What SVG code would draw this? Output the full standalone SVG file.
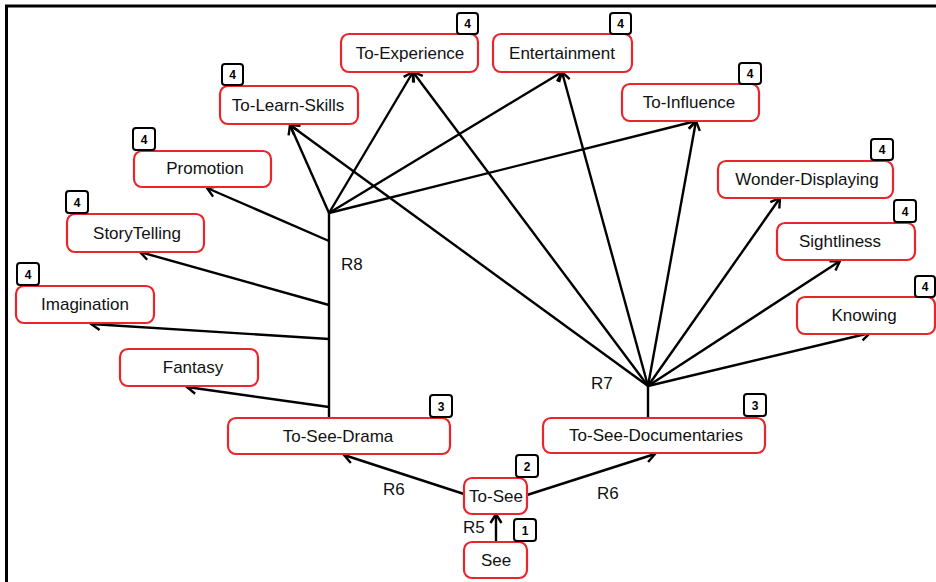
<svg xmlns="http://www.w3.org/2000/svg" width="936" height="582" viewBox="0 0 936 582">
<defs>
<marker id="ah" markerUnits="userSpaceOnUse" markerWidth="14" markerHeight="14" refX="11" refY="7" orient="auto">
<path d="M2,1.5 L11,7 L2,12.5" fill="none" stroke="#000" stroke-width="2.4" stroke-linejoin="miter"/>
</marker>
<style>
.n rect.b{fill:#fff;stroke:#e8262b;stroke-width:2.2}
.n rect.g{fill:#fff;stroke:#000;stroke-width:2}
.n text.t{font-family:"Liberation Sans",Arial,sans-serif;font-size:17px;fill:#111;text-anchor:middle}
.n text.k{font-family:"Liberation Sans",Arial,sans-serif;font-size:12px;font-weight:bold;fill:#000;text-anchor:middle}
.c line{stroke:#000;stroke-width:2.4}
.c line.a{marker-end:url(#ah)}
.lbl{font-family:"Liberation Sans",Arial,sans-serif;font-size:17px;fill:#111}
</style>
</defs>
<rect width="936" height="582" fill="#fff"/>
<path d="M6.5,582 V6 H936" fill="none" stroke="#000" stroke-width="3"/>

<g class="c" id="connectors">
<line x1="329" y1="418" x2="329" y2="213"/>
<line class="a" x1="329" y1="241" x2="207" y2="188"/>
<line class="a" x1="329" y1="305" x2="140" y2="252"/>
<line class="a" x1="329" y1="339" x2="91" y2="324"/>
<line class="a" x1="329" y1="407" x2="187" y2="387"/>
<line class="a" x1="329" y1="213" x2="290" y2="125"/>
<line class="a" x1="329" y1="213" x2="413" y2="72"/>
<line class="a" x1="329" y1="213" x2="562" y2="72"/>
<line class="a" x1="329" y1="213" x2="696" y2="121"/>
<line x1="648" y1="418" x2="648" y2="386"/>
<line class="a" x1="648" y1="386" x2="290" y2="125"/>
<line class="a" x1="648" y1="386" x2="413" y2="72"/>
<line class="a" x1="648" y1="386" x2="562" y2="72"/>
<line class="a" x1="648" y1="386" x2="696" y2="121"/>
<line class="a" x1="648" y1="386" x2="780" y2="198"/>
<line class="a" x1="648" y1="386" x2="840" y2="261"/>
<line class="a" x1="648" y1="386" x2="870" y2="333"/>
<line class="a" x1="496" y1="542" x2="496" y2="514"/>
<line class="a" x1="464" y1="494" x2="344" y2="455"/>
<line class="a" x1="527" y1="495" x2="655" y2="454"/>
</g>

<g class="labels">
<text class="lbl" x="341" y="270">R8</text>
<text class="lbl" x="591" y="389">R7</text>
<text class="lbl" x="383" y="495">R6</text>
<text class="lbl" x="597" y="499">R6</text>
<text class="lbl" x="463" y="533">R5</text>
</g>

<g class="n" id="to-experience">
<rect class="b" x="341" y="34" width="137" height="38" rx="8"/>
<text class="t" x="410" y="59">To-Experience</text>
<rect class="g" x="457" y="13" width="21" height="21" rx="3"/>
<text class="k" x="467.5" y="28">4</text>
</g>
<g class="n" id="entertainment">
<rect class="b" x="493" y="34" width="139" height="38" rx="8"/>
<text class="t" x="562" y="59">Entertainment</text>
<rect class="g" x="610" y="13" width="21" height="21" rx="3"/>
<text class="k" x="620.5" y="28">4</text>
</g>
<g class="n" id="to-learn-skills">
<rect class="b" x="220" y="86" width="138" height="38" rx="8"/>
<text class="t" x="288" y="111">To-Learn-Skills</text>
<rect class="g" x="222" y="64" width="21" height="21" rx="3"/>
<text class="k" x="232.5" y="79">4</text>
</g>
<g class="n" id="to-influence">
<rect class="b" x="622" y="84" width="137" height="37" rx="8"/>
<text class="t" x="689" y="108">To-Influence</text>
<rect class="g" x="739" y="63" width="22" height="21" rx="3"/>
<text class="k" x="750" y="78">4</text>
</g>
<g class="n" id="promotion">
<rect class="b" x="134" y="151" width="137" height="36" rx="8"/>
<text class="t" x="205" y="174">Promotion</text>
<rect class="g" x="133" y="128" width="22" height="22" rx="3"/>
<text class="k" x="144" y="144">4</text>
</g>
<g class="n" id="wonder-displaying">
<rect class="b" x="718" y="161" width="175" height="37" rx="8"/>
<text class="t" x="807" y="185">Wonder-Displaying</text>
<rect class="g" x="871" y="139" width="22" height="21" rx="3"/>
<text class="k" x="882" y="154">4</text>
</g>
<g class="n" id="storytelling">
<rect class="b" x="67" y="214" width="137" height="38" rx="8"/>
<text class="t" x="137" y="239">StoryTelling</text>
<rect class="g" x="66" y="191" width="22" height="22" rx="3"/>
<text class="k" x="77" y="207">4</text>
</g>
<g class="n" id="sightliness">
<rect class="b" x="777" y="223" width="138" height="37" rx="8"/>
<text class="t" x="840" y="247">Sightliness</text>
<rect class="g" x="894" y="200" width="22" height="22" rx="3"/>
<text class="k" x="905" y="216">4</text>
</g>
<g class="n" id="imagination">
<rect class="b" x="16" y="286" width="138" height="37" rx="8"/>
<text class="t" x="85" y="310">Imagination</text>
<rect class="g" x="17" y="263" width="22" height="22" rx="3"/>
<text class="k" x="28" y="279">4</text>
</g>
<g class="n" id="knowing">
<rect class="b" x="797" y="297" width="138" height="37" rx="8"/>
<text class="t" x="864" y="321">Knowing</text>
<rect class="g" x="915" y="276" width="20" height="21" rx="3"/>
<text class="k" x="925" y="291">4</text>
</g>
<g class="n" id="fantasy">
<rect class="b" x="120" y="349" width="138" height="37" rx="8"/>
<text class="t" x="193" y="373">Fantasy</text>
</g>
<g class="n" id="to-see-drama">
<rect class="b" x="228" y="418" width="222" height="36" rx="8"/>
<text class="t" x="338" y="442">To-See-Drama</text>
<rect class="g" x="430" y="395" width="22" height="22" rx="3"/>
<text class="k" x="441" y="411">3</text>
</g>
<g class="n" id="to-see-documentaries">
<rect class="b" x="543" y="418" width="222" height="35" rx="8"/>
<text class="t" x="656" y="441">To-See-Documentaries</text>
<rect class="g" x="744" y="394" width="22" height="22" rx="3"/>
<text class="k" x="755" y="410">3</text>
</g>
<g class="n" id="to-see">
<rect class="b" x="464" y="478" width="63" height="36" rx="8"/>
<text class="t" x="496" y="502">To-See</text>
<rect class="g" x="516" y="455" width="22" height="22" rx="3"/>
<text class="k" x="527" y="471">2</text>
</g>
<g class="n" id="see">
<rect class="b" x="464" y="542" width="63" height="36" rx="8"/>
<text class="t" x="496" y="566">See</text>
<rect class="g" x="514" y="519" width="22" height="22" rx="3"/>
<text class="k" x="525" y="535">1</text>
</g>
</svg>
